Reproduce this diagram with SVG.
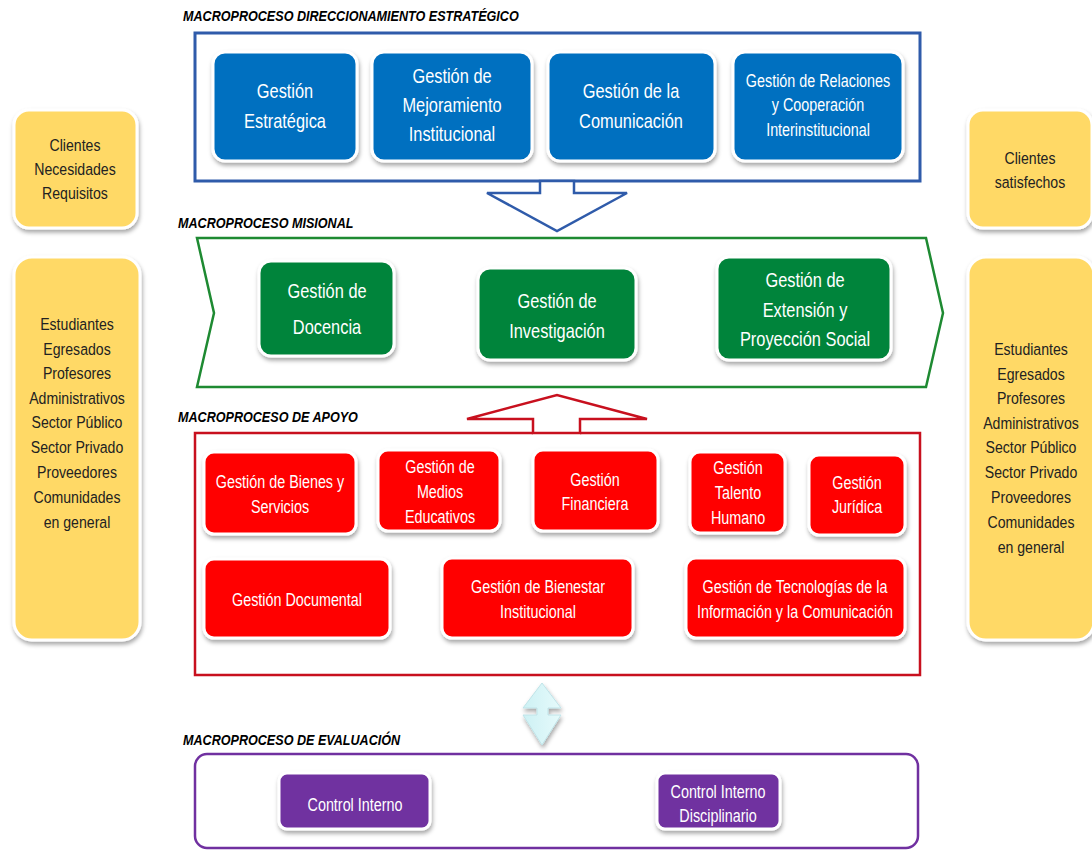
<svg xmlns="http://www.w3.org/2000/svg" width="1092" height="850" viewBox="0 0 1092 850">
<style>
text{font-family:"Liberation Sans",Arial,sans-serif;text-anchor:middle}
.title{font-size:14px;font-weight:bold;font-style:italic;text-anchor:start;fill:#000}
.box{stroke:#fff;stroke-width:3;filter:url(#sh)}
.blue{fill:#0070C0}
.green{fill:#05843B}
.red{fill:#FF0000}
.purple{fill:#7030A0}
.yellow{fill:#FFD966}
.wt{fill:#fff;font-size:20px}
.wr{fill:#fff;font-size:17.5px}
.yt{fill:#222;font-size:17px}
</style>
<defs>
<filter id="sh" x="-10%" y="-10%" width="130%" height="140%">
<feDropShadow dx="1" dy="3" stdDeviation="2" flood-color="#000" flood-opacity="0.35"/>
</filter>
<linearGradient id="cy" x1="0" y1="0" x2="1" y2="0">
<stop offset="0" stop-color="#cdf1f4"/><stop offset="1" stop-color="#e6fafb"/>
</linearGradient>
</defs>
<rect width="1092" height="850" fill="#fff"/>

<!-- side boxes -->
<g id="clientes-in">
<rect class="box yellow" x="14" y="110" width="123" height="118" rx="15"/>
<g transform="translate(75,0) scale(0.83,1)">
<text class="yt" x="0" y="151">Clientes</text>
<text class="yt" x="0" y="175">Necesidades</text>
<text class="yt" x="0" y="199">Requisitos</text>
</g>
</g>
<g id="partes-in">
<rect class="box yellow" x="14" y="257" width="126" height="383" rx="18"/>
<g transform="translate(77,0) scale(0.83,1)">
<text class="yt" x="0" y="330">Estudiantes</text>
<text class="yt" x="0" y="355">Egresados</text>
<text class="yt" x="0" y="379">Profesores</text>
<text class="yt" x="0" y="404">Administrativos</text>
<text class="yt" x="0" y="428">Sector Público</text>
<text class="yt" x="0" y="453">Sector Privado</text>
<text class="yt" x="0" y="478">Proveedores</text>
<text class="yt" x="0" y="503">Comunidades</text>
<text class="yt" x="0" y="528">en general</text>
</g>
</g>
<g id="clientes-out">
<rect class="box yellow" x="968" y="110" width="124" height="118" rx="15"/>
<g transform="translate(1030,0) scale(0.83,1)">
<text class="yt" x="0" y="164">Clientes</text>
<text class="yt" x="0" y="188">satisfechos</text>
</g>
</g>
<g id="partes-out">
<rect class="box yellow" x="968" y="257" width="126" height="383" rx="18"/>
<g transform="translate(1031,0) scale(0.83,1)">
<text class="yt" x="0" y="355">Estudiantes</text>
<text class="yt" x="0" y="380">Egresados</text>
<text class="yt" x="0" y="404">Profesores</text>
<text class="yt" x="0" y="429">Administrativos</text>
<text class="yt" x="0" y="453">Sector Público</text>
<text class="yt" x="0" y="478">Sector Privado</text>
<text class="yt" x="0" y="503">Proveedores</text>
<text class="yt" x="0" y="528">Comunidades</text>
<text class="yt" x="0" y="553">en general</text>
</g>
</g>

<!-- Direccionamiento estrategico -->
<g id="macro-estrategico">
<text class="title" x="0" y="21" transform="translate(183,0) scale(0.9,1)">MACROPROCESO DIRECCIONAMIENTO ESTRATÉGICO</text>
<rect x="195" y="33" width="725" height="148" fill="none" stroke="#2F5BAA" stroke-width="3"/>
</g>
<g id="gestion-estrategica">
<rect class="box blue" x="213" y="52" width="144" height="109" rx="12"/>
<g transform="translate(285,0) scale(0.82,1)">
<text class="wt" x="0" y="98">Gestión</text>
<text class="wt" x="0" y="128">Estratégica</text>
</g>
</g>
<g id="gestion-mejoramiento">
<rect class="box blue" x="372" y="52" width="160" height="109" rx="12"/>
<g transform="translate(452,0) scale(0.82,1)">
<text class="wt" x="0" y="83">Gestión de</text>
<text class="wt" x="0" y="112">Mejoramiento</text>
<text class="wt" x="0" y="141">Institucional</text>
</g>
</g>
<g id="gestion-comunicacion">
<rect class="box blue" x="548" y="52" width="167" height="109" rx="12"/>
<g transform="translate(631,0) scale(0.82,1)">
<text class="wt" x="0" y="98">Gestión de la</text>
<text class="wt" x="0" y="128">Comunicación</text>
</g>
</g>
<g id="gestion-relaciones">
<rect class="box blue" x="733" y="52" width="170" height="109" rx="12"/>
<g transform="translate(818,0) scale(0.82,1)">
<text class="wt" x="0" y="87" style="font-size:17.5px">Gestión de Relaciones</text>
<text class="wt" x="0" y="111" style="font-size:17.5px">y Cooperación</text>
<text class="wt" x="0" y="136" style="font-size:17.5px">Interinstitucional</text>
</g>
</g>

<!-- Misional -->
<g id="macro-misional">
<text class="title" x="0" y="228" transform="translate(178,0) scale(0.9,1)">MACROPROCESO MISIONAL</text>
<polygon points="197,238 926,238 943,313 926,387 197,387 214,313" fill="#fff" stroke="#1E8A32" stroke-width="2.5"/>
</g>
<g id="gestion-docencia">
<rect class="box green" x="259" y="261" width="135" height="95" rx="12"/>
<g transform="translate(327,0) scale(0.82,1)">
<text class="wt" x="0" y="298">Gestión de</text>
<text class="wt" x="0" y="334">Docencia</text>
</g>
</g>
<g id="gestion-investigacion">
<rect class="box green" x="478" y="268" width="158" height="92" rx="12"/>
<g transform="translate(557,0) scale(0.82,1)">
<text class="wt" x="0" y="308">Gestión de</text>
<text class="wt" x="0" y="338">Investigación</text>
</g>
</g>
<g id="gestion-extension">
<rect class="box green" x="717" y="257" width="174" height="103" rx="12"/>
<g transform="translate(805,0) scale(0.82,1)">
<text class="wt" x="0" y="287">Gestión de</text>
<text class="wt" x="0" y="317">Extensión y</text>
<text class="wt" x="0" y="346">Proyección Social</text>
</g>
</g>

<!-- Apoyo -->
<g id="macro-apoyo">
<text class="title" x="0" y="422" transform="translate(178,0) scale(0.9,1)">MACROPROCESO DE APOYO</text>
<polyline points="533,433 195,433 195,675 920,675 920,433 580,433" fill="none" stroke="#C8101E" stroke-width="2.5"/>
</g>
<g id="gestion-bienes">
<rect class="box red" x="204" y="452" width="152" height="82" rx="10"/>
<g transform="translate(280,0) scale(0.82,1)">
<text class="wr" x="0" y="488">Gestión de Bienes y</text>
<text class="wr" x="0" y="513">Servicios</text>
</g>
</g>
<g id="gestion-medios">
<rect class="box red" x="378" y="450" width="122" height="81" rx="10"/>
<g transform="translate(440,0) scale(0.82,1)">
<text class="wr" x="0" y="473">Gestión de</text>
<text class="wr" x="0" y="498">Medios</text>
<text class="wr" x="0" y="523">Educativos</text>
</g>
</g>
<g id="gestion-financiera">
<rect class="box red" x="533" y="450" width="125" height="81" rx="10"/>
<g transform="translate(595,0) scale(0.82,1)">
<text class="wr" x="0" y="486">Gestión</text>
<text class="wr" x="0" y="510">Financiera</text>
</g>
</g>
<g id="gestion-talento">
<rect class="box red" x="690" y="452" width="95" height="81" rx="10"/>
<g transform="translate(738,0) scale(0.82,1)">
<text class="wr" x="0" y="474">Gestión</text>
<text class="wr" x="0" y="499">Talento</text>
<text class="wr" x="0" y="524">Humano</text>
</g>
</g>
<g id="gestion-juridica">
<rect class="box red" x="809" y="455" width="96" height="80" rx="10"/>
<g transform="translate(857,0) scale(0.82,1)">
<text class="wr" x="0" y="489">Gestión</text>
<text class="wr" x="0" y="513">Jurídica</text>
</g>
</g>
<g id="gestion-documental">
<rect class="box red" x="204" y="559" width="186" height="79" rx="10"/>
<g transform="translate(297,0) scale(0.82,1)">
<text class="wr" x="0" y="606">Gestión Documental</text>
</g>
</g>
<g id="gestion-bienestar">
<rect class="box red" x="442" y="558" width="191" height="80" rx="10"/>
<g transform="translate(538,0) scale(0.82,1)">
<text class="wr" x="0" y="593">Gestión de Bienestar</text>
<text class="wr" x="0" y="618">Institucional</text>
</g>
</g>
<g id="gestion-tic">
<rect class="box red" x="686" y="558" width="219" height="80" rx="10"/>
<g transform="translate(795,0) scale(0.82,1)">
<text class="wr" x="0" y="593">Gestión de Tecnologías de la</text>
<text class="wr" x="0" y="618">Información y la Comunicación</text>
</g>
</g>

<!-- Evaluacion -->
<g id="macro-evaluacion">
<text class="title" x="0" y="745" transform="translate(183,0) scale(0.9,1)">MACROPROCESO DE EVALUACIÓN</text>
<rect x="195" y="754" width="723" height="94" rx="12" fill="#fff" stroke="#7030A0" stroke-width="2.5"/>
</g>
<g id="control-interno">
<rect class="box purple" x="279" y="773" width="151" height="56" rx="8"/>
<g transform="translate(355,0) scale(0.82,1)">
<text class="wr" x="0" y="811">Control Interno</text>
</g>
</g>
<g id="control-disciplinario">
<rect class="box purple" x="657" y="773" width="123" height="56" rx="8"/>
<g transform="translate(718,0) scale(0.82,1)">
<text class="wr" x="0" y="798">Control Interno</text>
<text class="wr" x="0" y="822">Disciplinario</text>
</g>
</g>

<!-- connectors -->
<g id="connectors">
<polygon points="540,181 540,193 487,193 557,231 627,193 574,193 574,181" fill="#fff" stroke="#2F5BAA" stroke-width="2.5"/>
<polygon points="533,433 533,419 467,419 557,395 647,419 580,419 580,433" fill="#fff" stroke="#C8101E" stroke-width="2.5"/>
<polygon points="542,683 561,708 548,708 548,715 561,715 542,745 523,715 537,715 537,708 523,708" fill="url(#cy)" stroke="#bfe3e8" stroke-width="1" filter="url(#sh)"/>
</g>
</svg>
